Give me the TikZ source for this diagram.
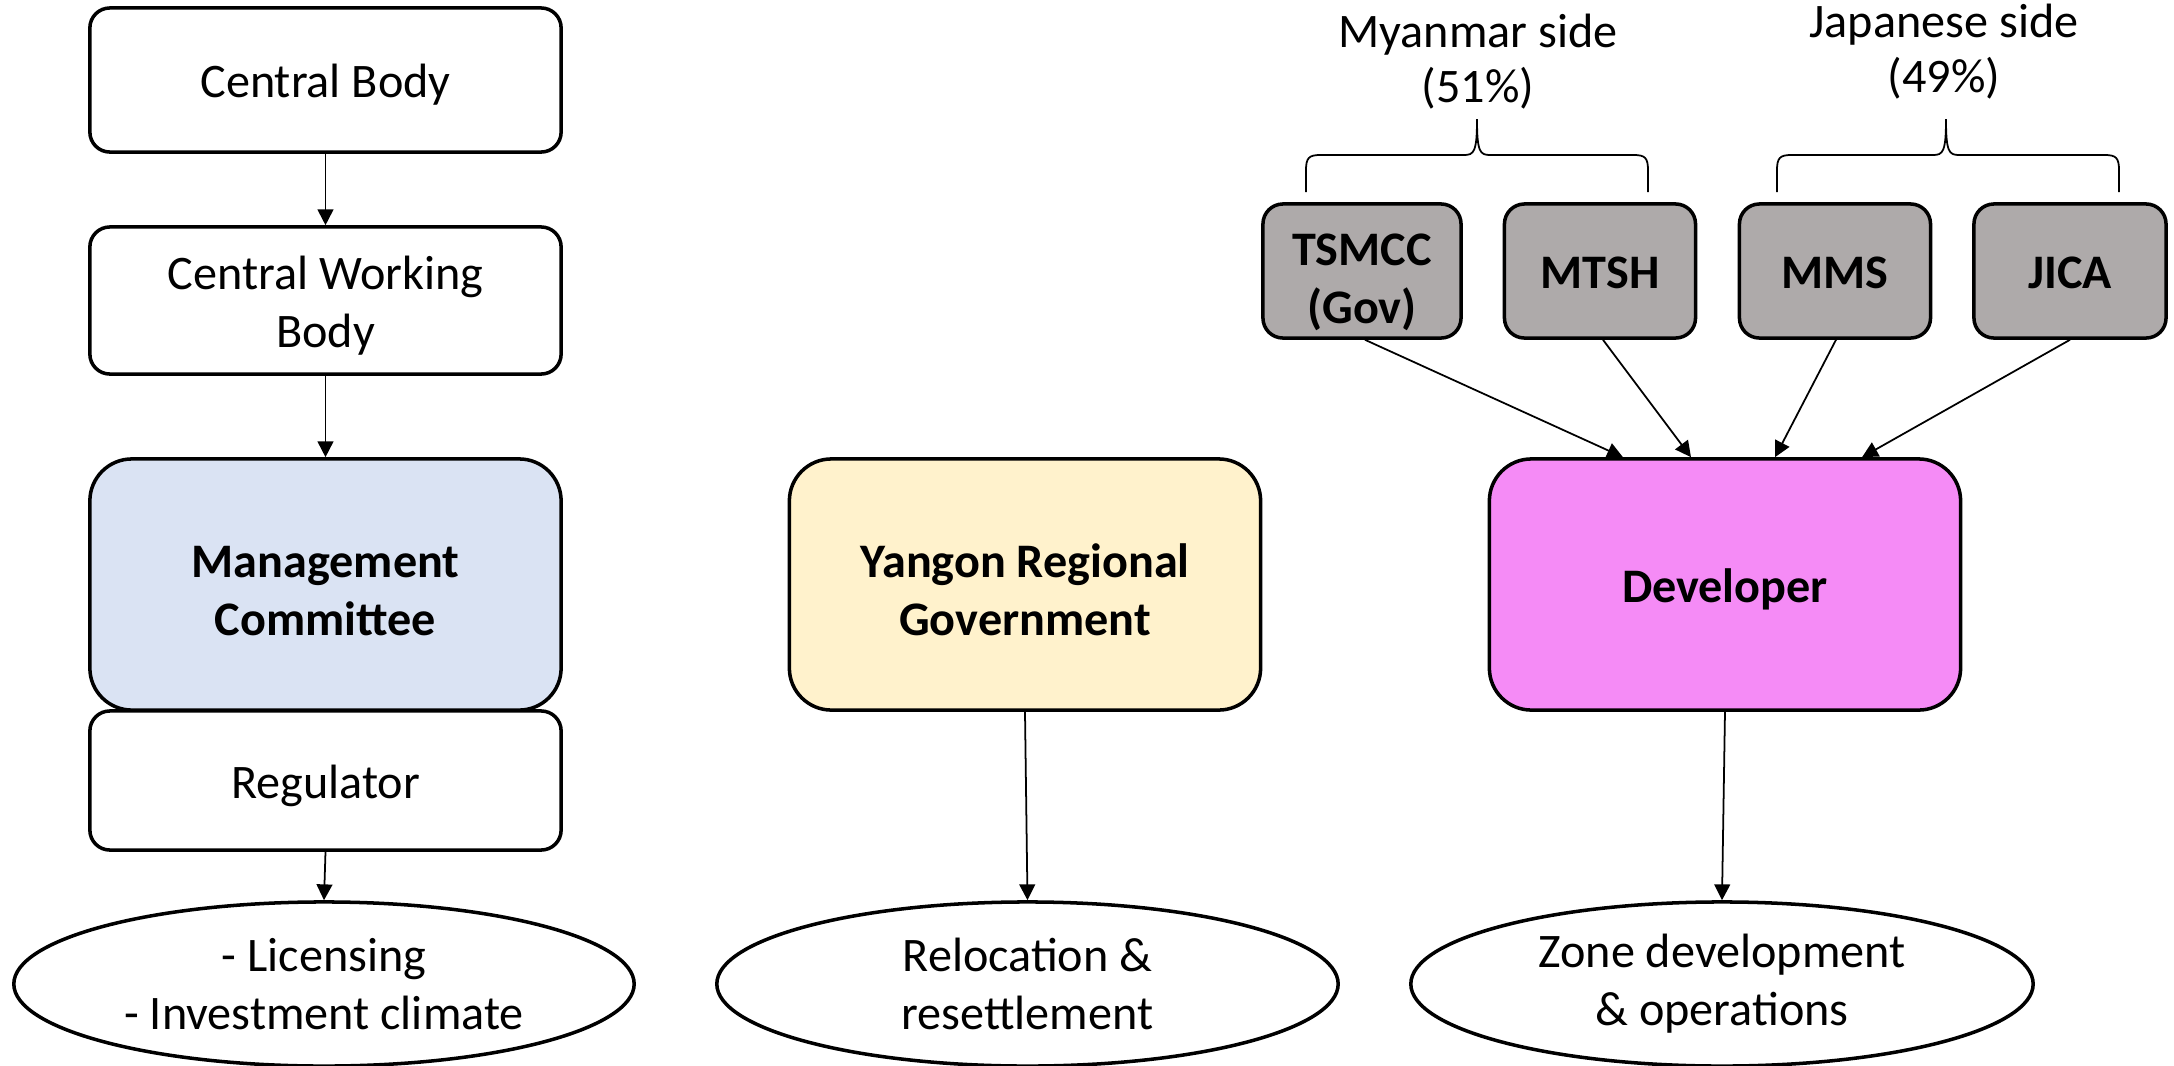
\documentclass[tikz,border=0pt]{standalone}
\usepackage{fontspec}
\setmainfont{Carlito}
\usetikzlibrary{arrows.meta,shapes.geometric}
\definecolor{mcblue}{HTML}{DAE3F3}
\definecolor{ygold}{HTML}{FFF2CC}
\definecolor{devpink}{HTML}{F58BF6}
\definecolor{gbox}{HTML}{AEAAAA}
\newcommand\mytop{\rule{0pt}{12.8pt}}
\newcommand\mytopb{\rule{0pt}{15pt}}
\newcommand\mybot{\rule[-2.6pt]{0pt}{0pt}}
\tikzset{
  base/.style={draw, line width=1pt, align=center, inner sep=0pt, font=\fontsize{13.7}{16.5}\selectfont},
  lowered/.style={execute at begin node={\mytop}, execute at end node={\mybot}},
  smallbox/.style={base, lowered, rounded corners=0.2cm, minimum width=4.71cm},
  bigbox/.style={base, lowered, rounded corners=0.42cm, minimum width=4.71cm, minimum height=2.51cm, font=\fontsize{13.7}{16.5}\selectfont\bfseries},
  graybox/.style={base, lowered, fill=gbox, rounded corners=0.2cm, minimum height=1.34cm, font=\fontsize{13.7}{16.5}\selectfont\bfseries},
  oval/.style={base, ellipse, minimum height=1.64cm},
  arr/.style={line width=0.5pt, -{Triangle[length=4.5pt,width=4.5pt]}},
  lbl/.style={align=center, inner sep=0pt, font=\fontsize{13.7}{15.6}\selectfont}
}
\begin{document}
\begin{tikzpicture}[x=0.01cm,y=-0.01cm]
\useasboundingbox (0,0) rectangle (2174,1066);
% left column
\node[smallbox, minimum height=1.44cm] (cb) at (325.5,80) {Central Body};
\node[smallbox, minimum height=1.47cm] (cwb) at (325.5,300.5) {\mytop Central Working\\Body\mybot};
\node[bigbox, fill=mcblue] (mc) at (325.5,584.5) {\mytopb Management\\Committee\mybot};
\node[smallbox, minimum height=1.39cm] (reg) at (325.5,780.5) {Regulator};
\node[oval, minimum width=6.2cm] (e1) at (324,984) {- Licensing\\- Investment climate};
% middle column
\node[bigbox, fill=ygold] (yrg) at (1025,584.5) {\mytopb Yangon Regional\\Government\mybot};
\node[oval, minimum width=6.21cm] (e2) at (1027.5,984) {Relocation \&\\resettlement};
% right column
\node[bigbox, fill=devpink] (dev) at (1725,584.5) {Developer};
\node[oval, minimum width=6.22cm] (e3) at (1722,984) {Zone development\\\& operations};
\node[graybox, minimum width=1.98cm] (ts) at (1362,271) {\rule{0pt}{16pt}TSMCC\\(Gov)};
\node[graybox, minimum width=1.91cm] (mt) at (1600,271) {MTSH};
\node[graybox, minimum width=1.91cm] (mm) at (1835,271) {MMS};
\node[graybox, minimum width=1.92cm] (ji) at (2070,271) {JICA};
% labels
\node[lbl] (mya) at (1478,62) {Myanmar side\\(51\%)};
\node[lbl] (jap) at (1944,52) {Japanese side\\(49\%)};
% braces
\draw[line width=0.5pt] (1306,192) -- (1306,170) .. controls (1306,158) and (1309,155) .. (1320,155) -- (1464,155) .. controls (1474,155) and (1477,152) .. (1477,119) .. controls (1477,152) and (1480,155) .. (1490,155) -- (1634,155) .. controls (1645,155) and (1648,158) .. (1648,170) -- (1648,192);
\draw[line width=0.5pt] (1777,192) -- (1777,170) .. controls (1777,158) and (1780,155) .. (1791,155) -- (1933,155) .. controls (1943,155) and (1946,152) .. (1946,119) .. controls (1946,152) and (1949,155) .. (1959,155) -- (2105,155) .. controls (2116,155) and (2119,158) .. (2119,170) -- (2119,192);
% connectors
\draw[arr] (cb) -- (cwb);
\draw[arr] (cwb) -- (mc);
\draw[arr] (reg.south) -- (e1.north);
\draw[arr] (yrg.south) -- (e2.north);
\draw[arr] (dev.south) -- (e3.north);
\draw[arr] ([xshift=0.03cm]ts.south) -- ([xshift=-1.02cm]dev.north);
\draw[arr] ([xshift=0.03cm]mt.south) -- ([xshift=-0.34cm]dev.north);
\draw[arr] ([xshift=0.01cm]mm.south) -- ([xshift=0.50cm]dev.north);
\draw[arr] (ji.south) -- ([xshift=1.37cm]dev.north);
\end{tikzpicture}
\end{document}
